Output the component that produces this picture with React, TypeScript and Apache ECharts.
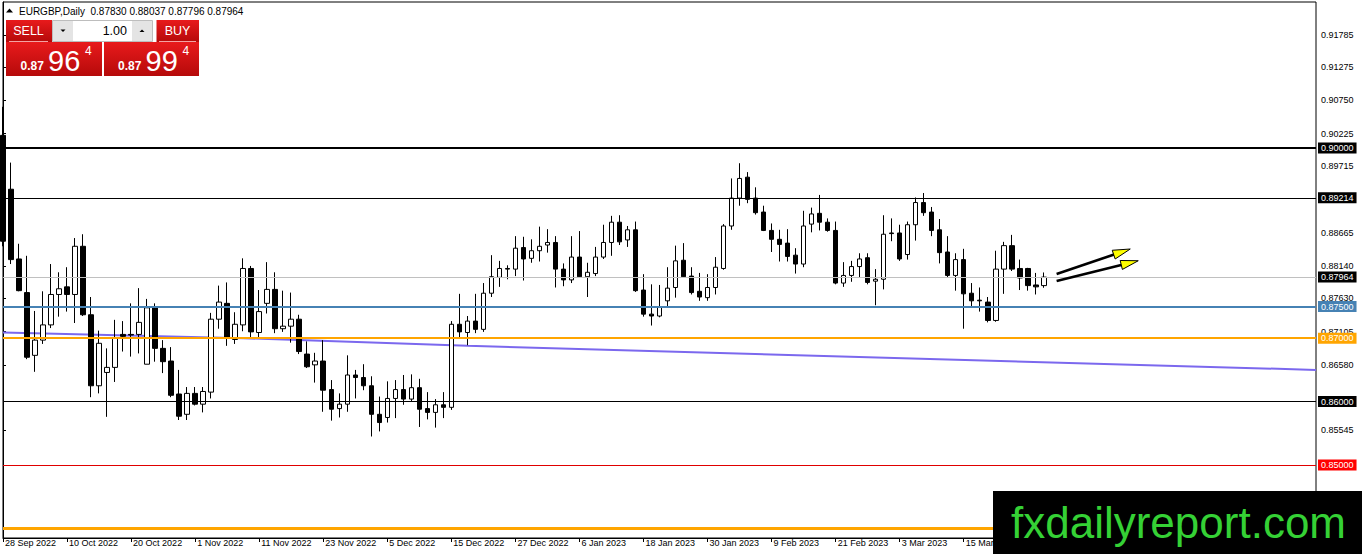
import React, { useEffect, useRef } from "react";
import * as echarts from "echarts";

const FONT = "Liberation Sans, Arial, sans-serif";

// Daily bars (one slot per trading day, 28 Sep 2022 = slot 0)
const slotCount = 165;
const tickLabels = [
  "28 Sep 2022", "10 Oct 2022", "20 Oct 2022", "1 Nov 2022", "11 Nov 2022",
  "23 Nov 2022", "5 Dec 2022", "15 Dec 2022", "27 Dec 2022", "6 Jan 2023",
  "18 Jan 2023", "30 Jan 2023", "9 Feb 2023", "21 Feb 2023", "3 Mar 2023",
  "15 Mar 2023",
];

const opens = [
  0.9020, 0.8935, 0.8825, 0.8772, 0.8673, 0.8697, 0.8721, 0.8769, 0.8781, 0.8769,
  0.8845, 0.8737, 0.8625, 0.8646, 0.8654, 0.8706, 0.8706, 0.8706, 0.8659, 0.8748,
  0.8684, 0.8664, 0.8612, 0.8580, 0.8613, 0.8596, 0.8615, 0.8730, 0.8755, 0.8698,
  0.8721, 0.8810, 0.8709, 0.8755, 0.8777, 0.8715, 0.8719, 0.8730, 0.8675, 0.8658,
  0.8664, 0.8619, 0.8589, 0.8596, 0.8642, 0.8638, 0.8625, 0.8580, 0.8575, 0.8605,
  0.8619, 0.8604, 0.8622, 0.8589, 0.8583, 0.8595, 0.8591, 0.8722, 0.8709, 0.8727,
  0.8714, 0.8771, 0.8796, 0.8810, 0.8809, 0.8843, 0.8826, 0.8838, 0.8847, 0.8851,
  0.8809, 0.8792, 0.8828, 0.8797, 0.8802, 0.8828, 0.8851, 0.8883, 0.8855, 0.8871,
  0.8776, 0.8738, 0.8735, 0.8759, 0.8780, 0.8823, 0.8798, 0.8774, 0.8764, 0.8780,
  0.8810, 0.8877, 0.8921, 0.8954, 0.8921, 0.8899, 0.8870, 0.8856, 0.8850, 0.8831,
  0.8817, 0.8880, 0.8897, 0.8883, 0.8870, 0.8787, 0.8799, 0.8813, 0.8827, 0.8790,
  0.8793, 0.8866, 0.8866, 0.8832, 0.8879, 0.8914, 0.8899, 0.8871, 0.8836, 0.8799,
  0.8824, 0.8771, 0.8760, 0.8757, 0.8728, 0.8809, 0.8846, 0.8810, 0.8810, 0.8784,
  0.87830,
];
const highs = [
  0.9065, 0.8977, 0.8849, 0.8830, 0.8743, 0.8774, 0.8817, 0.8804, 0.8812, 0.8858,
  0.8864, 0.8765, 0.8712, 0.8684, 0.8729, 0.8727, 0.8755, 0.8779, 0.8762, 0.8755,
  0.8697, 0.8686, 0.8650, 0.8623, 0.8623, 0.8623, 0.8740, 0.8783, 0.8788, 0.8741,
  0.8826, 0.8814, 0.8776, 0.8820, 0.8804, 0.8775, 0.8772, 0.8737, 0.8695, 0.8677,
  0.8697, 0.8634, 0.8613, 0.8673, 0.8650, 0.8659, 0.8640, 0.8608, 0.8632, 0.8634,
  0.8642, 0.8643, 0.8636, 0.8615, 0.8604, 0.8615, 0.8727, 0.8770, 0.8735, 0.8770,
  0.8787, 0.8831, 0.8822, 0.8815, 0.8861, 0.8860, 0.8856, 0.8876, 0.8872, 0.8861,
  0.8818, 0.8861, 0.8869, 0.8819, 0.8844, 0.8879, 0.8893, 0.8894, 0.8877, 0.8884,
  0.8801, 0.8785, 0.8784, 0.8812, 0.8846, 0.8850, 0.8812, 0.8803, 0.8801, 0.8828,
  0.8880, 0.8952, 0.8976, 0.8962, 0.8938, 0.8909, 0.8881, 0.8871, 0.8872, 0.8842,
  0.8901, 0.8906, 0.8926, 0.8889, 0.8884, 0.8820, 0.8822, 0.8834, 0.8834, 0.8809,
  0.8894, 0.8889, 0.8879, 0.8884, 0.8922, 0.8929, 0.8907, 0.8888, 0.8861, 0.8834,
  0.8841, 0.8787, 0.8780, 0.8765, 0.8838, 0.8852, 0.8863, 0.8824, 0.8811, 0.8803,
  0.88037,
];
const lows = [
  0.8845, 0.8817, 0.8774, 0.8667, 0.8647, 0.8691, 0.8716, 0.8734, 0.8742, 0.8724,
  0.8735, 0.8607, 0.8613, 0.8576, 0.8631, 0.8679, 0.8671, 0.8676, 0.8659, 0.8663,
  0.8645, 0.8607, 0.8571, 0.8571, 0.8594, 0.8583, 0.8605, 0.8715, 0.8688, 0.8691,
  0.8711, 0.8700, 0.8700, 0.8739, 0.8708, 0.8710, 0.8693, 0.8675, 0.8653, 0.8630,
  0.8584, 0.8570, 0.8575, 0.8584, 0.8605, 0.8618, 0.8545, 0.8553, 0.8567, 0.8574,
  0.8595, 0.8601, 0.8560, 0.8572, 0.8559, 0.8574, 0.8587, 0.8700, 0.8689, 0.8708,
  0.8710, 0.8765, 0.8781, 0.8793, 0.8798, 0.8791, 0.8819, 0.8821, 0.8835, 0.8780,
  0.8782, 0.8787, 0.8796, 0.8765, 0.8798, 0.8825, 0.8830, 0.8847, 0.8844, 0.8773,
  0.8734, 0.8720, 0.8733, 0.8750, 0.8764, 0.8795, 0.8769, 0.8759, 0.8759, 0.8769,
  0.8808, 0.8871, 0.8909, 0.8913, 0.8895, 0.8869, 0.8836, 0.8821, 0.8821, 0.8802,
  0.8812, 0.8867, 0.8870, 0.8868, 0.8785, 0.8781, 0.8789, 0.8795, 0.8785, 0.8752,
  0.8777, 0.8853, 0.8822, 0.8824, 0.8854, 0.8893, 0.8861, 0.8818, 0.8796, 0.8775,
  0.8715, 0.8749, 0.8742, 0.8725, 0.8726, 0.8770, 0.8806, 0.8776, 0.8775, 0.8769,
  0.87796,
];
const closes = [
  0.8853, 0.8824, 0.8775, 0.8670, 0.8697, 0.8721, 0.8769, 0.8778, 0.8769, 0.8845,
  0.8737, 0.8625, 0.8692, 0.8654, 0.8701, 0.8703, 0.8705, 0.8725, 0.8748, 0.8684,
  0.8663, 0.8610, 0.8577, 0.8613, 0.8596, 0.8616, 0.8730, 0.8757, 0.8701, 0.8722,
  0.8810, 0.8710, 0.8742, 0.8777, 0.8715, 0.8719, 0.8730, 0.8679, 0.8655, 0.8664,
  0.8618, 0.8588, 0.8596, 0.8642, 0.8638, 0.8625, 0.8580, 0.8567, 0.8605, 0.8619,
  0.8604, 0.8622, 0.8588, 0.8583, 0.8595, 0.8591, 0.8722, 0.8710, 0.8727, 0.8714,
  0.8771, 0.8797, 0.8810, 0.8809, 0.8842, 0.8825, 0.8838, 0.8845, 0.8851, 0.8809,
  0.8792, 0.8828, 0.8797, 0.8804, 0.8828, 0.8851, 0.8883, 0.8852, 0.8871, 0.8775,
  0.8738, 0.8735, 0.8750, 0.8779, 0.8822, 0.8797, 0.8772, 0.8765, 0.8780, 0.8812,
  0.8877, 0.8921, 0.8952, 0.8919, 0.8898, 0.8870, 0.8856, 0.8848, 0.8829, 0.8817,
  0.8877, 0.8896, 0.8883, 0.8870, 0.8787, 0.8799, 0.8813, 0.8825, 0.8788, 0.8793,
  0.8864, 0.8865, 0.8825, 0.8879, 0.8914, 0.8898, 0.8870, 0.8835, 0.8799, 0.8824,
  0.8770, 0.8759, 0.8759, 0.8728, 0.8809, 0.8846, 0.8809, 0.8795, 0.8783, 0.8781,
  0.87964,
];

// Horizontal price levels drawn on the chart
const levelPrices = [0.9, 0.89214, 0.87964, 0.875, 0.87, 0.86, 0.85, 0.84];
// Right-axis price tick labels
const yTicks = [0.91785, 0.91275, 0.9075, 0.90225, 0.89715, 0.88665, 0.8814, 0.8763, 0.87105, 0.8658, 0.85545];
// Sloping purple line (slot, price)
const trendSlots = [0, 30, 58, 164];
const trendPrices = [0.8709, 0.87, 0.8688, 0.865];
// Two hand-drawn arrows (start slot, start price, tip slot, tip price)
const arrowStartSlots = [131.6, 131.6];
const arrowStartPrices = [0.88013, 0.87902];
const arrowTipSlots = [140.8, 141.8];
const arrowTipPrices = [0.88407, 0.88222];

const levelStyles = [
  { color: "#000000", width: 2, bg: "#000000", label: true },
  { color: "#000000", width: 1, bg: "#000000", label: true },
  { color: "#c0c0c0", width: 1, bg: "#000000", label: true },
  { color: "#4682b4", width: 2, bg: "#4682b4", label: true },
  { color: "#ffa500", width: 2, bg: "#ffa500", label: true },
  { color: "#000000", width: 1, bg: "#000000", label: true },
  { color: "#e00000", width: 1, bg: "#ff0000", label: true },
  { color: "#ffa500", width: 3, bg: "#ffa500", label: false },
];

const redGrad = () =>
  new echarts.graphic.LinearGradient(0, 0, 0, 1, [
    { offset: 0, color: "#e81a1c" },
    { offset: 1, color: "#b50a0a" },
  ]);

export default function App() {
  const ref = useRef<HTMLDivElement>(null);

  useEffect(() => {
    document.body.style.margin = "0";
    const chart = echarts.init(ref.current!, null, { renderer: "svg" });

    const categories = Array.from({ length: slotCount }, (_, i) => String(i));
    const candleData = opens.map((o, i) => [o, closes[i], lows[i], highs[i]]);
    const trendData = trendSlots.map((s, i) => [s, trendPrices[i]]);
    const arrowData = arrowStartSlots.map((s, i) => [s, arrowStartPrices[i], arrowTipSlots[i], arrowTipPrices[i]]);

    const markData = levelPrices.map((p, i) => ({
      yAxis: p,
      lineStyle: { color: levelStyles[i].color, width: levelStyles[i].width, type: "solid" },
      label: {
        show: levelStyles[i].label,
        position: "end",
        distance: 2,
        formatter: () => p.toFixed(5),
        color: "#ffffff",
        backgroundColor: levelStyles[i].bg,
        padding: [1, 3, 1, 3],
        fontSize: 9,
        fontFamily: FONT,
      },
    }));

    const txt = (text: string, x: number, y: number, size: number, opts: any = {}) => ({
      type: "text",
      x,
      y,
      z: 101,
      style: {
        text,
        fill: opts.fill || "#ffffff",
        fontSize: size,
        fontFamily: FONT,
        fontWeight: opts.bold ? "bold" : "normal",
        align: opts.align || "left",
        verticalAlign: "middle",
      },
    });

    const graphics: any[] = [
      { type: "polygon", z: 101, shape: { points: [[6, 12.5], [9.5, 8.5], [13, 12.5]] }, style: { fill: "#000" } },
      txt("EURGBP,Daily  0.87830 0.88037 0.87796 0.87964", 19, 11, 10, { fill: "#000000" }),
      // SELL / BUY buttons
      { type: "rect", z: 100, shape: { x: 6, y: 20, width: 46, height: 22 }, style: { fill: redGrad() } },
      { type: "rect", z: 100, shape: { x: 156.5, y: 20, width: 42.5, height: 22 }, style: { fill: redGrad() } },
      { type: "line", z: 101, shape: { x1: 9, y1: 41.5, x2: 48, y2: 41.5 }, style: { stroke: "#f3a3a3", lineWidth: 1 } },
      { type: "line", z: 101, shape: { x1: 159, y1: 41.5, x2: 196, y2: 41.5 }, style: { stroke: "#f3a3a3", lineWidth: 1 } },
      txt("SELL", 28.5, 31, 12.5, { align: "center" }),
      txt("BUY", 177.5, 31, 12.5, { align: "center" }),
      // lot spinner
      { type: "rect", z: 100, shape: { x: 52.5, y: 20.5, width: 100, height: 21 }, style: { fill: "#ffffff", stroke: "#bdbdbd", lineWidth: 1 } },
      { type: "rect", z: 101, shape: { x: 53, y: 21, width: 20, height: 20 }, style: { fill: "#e4e4e4" } },
      { type: "rect", z: 101, shape: { x: 132, y: 21, width: 20, height: 20 }, style: { fill: "#e4e4e4" } },
      { type: "polygon", z: 102, shape: { points: [[60.5, 29.5], [65.5, 29.5], [63, 32]] }, style: { fill: "#000" } },
      { type: "polygon", z: 102, shape: { points: [[139.5, 32], [144.5, 32], [142, 29.5]] }, style: { fill: "#000" } },
      txt("1.00", 127, 31, 12.5, { fill: "#000000", align: "right" }),
      // price boxes
      { type: "rect", z: 100, shape: { x: 6, y: 42, width: 96, height: 34 }, style: { fill: redGrad() } },
      { type: "rect", z: 100, shape: { x: 104, y: 42, width: 95, height: 34 }, style: { fill: redGrad() } },
      txt("0.87", 20.5, 66, 12, { bold: true }),
      txt("96", 48, 61, 29),
      txt("4", 85, 51, 12),
      txt("0.87", 118, 66, 12, { bold: true }),
      txt("99", 145.5, 61, 29),
      txt("4", 182.5, 51, 12),
      // watermark
      { type: "rect", z: 110, shape: { x: 993, y: 491, width: 369, height: 63 }, style: { fill: "#000000" } },
      {
        type: "text",
        x: 1011,
        y: 522,
        z: 111,
        style: { text: "fxdailyreport.com", fill: "#35d135", fontSize: 44, fontFamily: FONT, verticalAlign: "middle" },
      },
    ];

    const option: any = {
      animation: false,
      backgroundColor: "#ffffff",
      textStyle: { fontFamily: FONT },
      grid: { left: 3, right: 46, top: 2, bottom: 16, show: true, borderColor: "#000", borderWidth: 1, backgroundColor: "#ffffff" },
      xAxis: [
        {
          type: "category",
          data: categories,
          boundaryGap: false,
          axisLine: { show: true, lineStyle: { color: "#000", width: 1 } },
          axisTick: { show: true, interval: 7, length: 4, lineStyle: { color: "#000" } },
          axisLabel: {
            interval: 7,
            align: "left",
            margin: 0,
            padding: [0, 0, 0, 2],
            fontSize: 9,
            color: "#000",
            fontFamily: FONT,
            formatter: (_v: string, idx: number) => tickLabels[idx / 8] ?? "",
          },
          splitLine: { show: false },
        },
        { type: "value", min: 0, max: slotCount - 1, show: false },
      ],
      yAxis: {
        type: "value",
        position: "right",
        min: 0.83849,
        max: 0.92303,
        axisLine: { show: true, lineStyle: { color: "#000" } },
        axisTick: { show: true, length: 3, customValues: yTicks, lineStyle: { color: "#000" } },
        axisLabel: {
          customValues: yTicks,
          formatter: (v: number) => v.toFixed(5),
          color: "#000",
          fontSize: 9,
          fontFamily: FONT,
          margin: 5,
        },
        splitLine: { show: false },
      },
      series: [
        {
          type: "line",
          xAxisIndex: 1,
          data: trendData,
          symbol: "none",
          z: 1,
          lineStyle: { color: "#7b68ee", width: 2 },
          silent: true,
        },
        {
          type: "candlestick",
          xAxisIndex: 0,
          data: candleData,
          barWidth: 5,
          z: 3,
          clip: true,
          itemStyle: { color: "#ffffff", color0: "#000000", borderColor: "#000000", borderColor0: "#000000", borderWidth: 1 },
          markLine: { symbol: ["none", "none"], precision: 5, silent: true, animation: false, data: markData },
        },
        {
          type: "custom",
          xAxisIndex: 1,
          z: 6,
          silent: true,
          data: arrowData,
          encode: { x: [0, 2], y: [1, 3] },
          renderItem: (_params: any, api: any) => {
            const a = api.coord([api.value(0), api.value(1)]);
            const b = api.coord([api.value(2), api.value(3)]);
            const dx = b[0] - a[0];
            const dy = b[1] - a[1];
            const len = Math.sqrt(dx * dx + dy * dy);
            const ux = dx / len;
            const uy = dy / len;
            const hl = 17.5;
            const hw = 4.6;
            const bx = b[0] - ux * hl;
            const by = b[1] - uy * hl;
            return {
              type: "group",
              children: [
                { type: "line", shape: { x1: a[0], y1: a[1], x2: bx + ux * 2, y2: by + uy * 2 }, style: { stroke: "#000", lineWidth: 2.6 } },
                {
                  type: "polygon",
                  shape: { points: [[b[0], b[1]], [bx - uy * hw, by + ux * hw], [bx + uy * hw, by - ux * hw]] },
                  style: { fill: "#ffff00", stroke: "#000", lineWidth: 1 },
                },
              ],
            };
          },
        },
      ],
      graphic: { elements: graphics },
    };

    chart.setOption(option);
    return () => chart.dispose();
  }, []);

  return (
    <div
      ref={ref}
      style={{ position: "absolute", left: 0, top: 0, width: 1362, height: 554, background: "#ffffff" }}
    />
  );
}
